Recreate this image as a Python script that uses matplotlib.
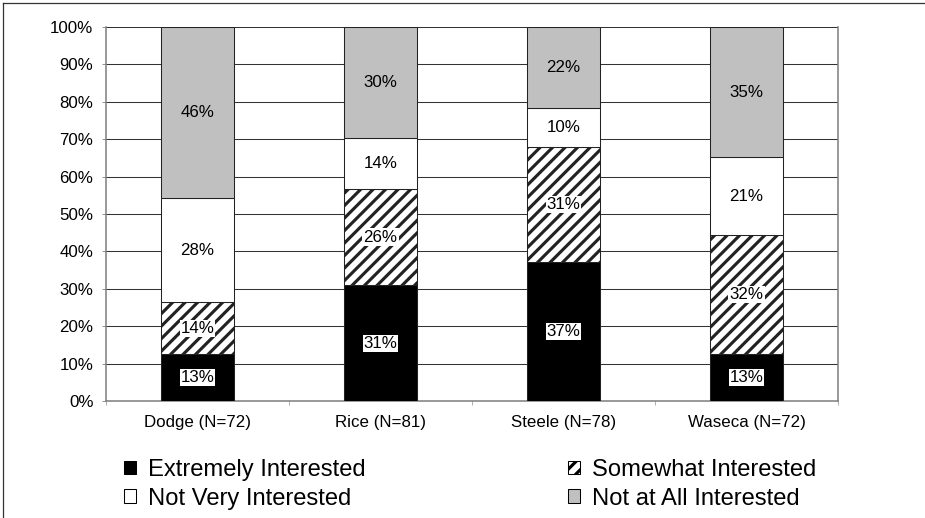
import numpy as np
import matplotlib
matplotlib.use('Agg')
import matplotlib.pyplot as plt
from matplotlib.patches import Patch
from matplotlib.lines import Line2D

# Data (percent of respondents per county)
counties = ['Dodge (N=72)', 'Rice (N=81)', 'Steele (N=78)', 'Waseca (N=72)']
extremely = [12.5, 30.9, 37.2, 12.5]
somewhat = [13.9, 25.9, 30.8, 31.9]
not_very = [27.8, 13.6, 10.3, 20.8]
not_at_all = [45.8, 29.6, 21.8, 34.7]

series_names = ['Extremely Interested', 'Somewhat Interested',
                'Not Very Interested', 'Not at All Interested']
series = [extremely, somewhat, not_very, not_at_all]
fills = ['black', 'white', 'white', '#c0c0c0']
hatches = [None, '//', None, None]
label_box = [True, True, False, False]

plt.rcParams['font.family'] = ['Liberation Sans', 'DejaVu Sans']
plt.rcParams['hatch.linewidth'] = 3.0
plt.rcParams['hatch.color'] = 'black'

DPI = 75
fig = plt.figure(figsize=(926 / DPI, 518 / DPI), dpi=DPI)
ax = fig.add_axes([106 / 926, 1 - 401 / 518, (838 - 106) / 926, (401 - 27) / 518])

x = np.arange(len(counties))
bottom = np.zeros(len(counties))
for vals, fc, h, box in zip(series, fills, hatches, label_box):
    vals = np.array(vals)
    ax.bar(x, vals, 0.4, bottom=bottom, color=fc, edgecolor='#222222',
           linewidth=1.0, hatch=h, zorder=3)
    for xi, v, b0 in zip(x, vals, bottom):
        kw = {}
        if box:
            kw['bbox'] = dict(facecolor='white', edgecolor='none', pad=1.0)
        # round half up like excel does
        ax.text(xi, b0 + v / 2, f'{int(np.floor(v + 0.5))}%', ha='center', va='center',
                fontsize=16.2, color='black', zorder=5, **kw)
    bottom = bottom + vals

ax.set_xlim(-0.5, len(counties) - 0.5)
ax.set_ylim(0, 100)
ax.set_yticks(np.arange(0, 101, 10))
ax.set_yticklabels([f'{v}%' for v in range(0, 101, 10)], fontsize=16.2)
ax.set_xticks(x)
ax.set_xticklabels(counties, fontsize=16.2)
ax.tick_params(axis='x', which='major', length=0, pad=13)
ax.set_xticks(np.arange(-0.5, len(counties), 1), minor=True)
ax.tick_params(axis='x', which='minor', length=4, color='#808080', direction='out')
ax.tick_params(axis='y', length=4, color='#808080', pad=8)

ax.grid(axis='y', color='#333333', linewidth=1.0, zorder=0)
ax.set_axisbelow(True)
for s in ['left', 'bottom', 'right']:
    ax.spines[s].set_color('#808080')
    ax.spines[s].set_linewidth(1.5)
ax.spines['top'].set_visible(False)

# legend below the plot, two columns
handles = [Patch(facecolor=fills[i], edgecolor='black', hatch=hatches[i], linewidth=1.0)
           for i in range(4)]
order = [0, 2, 1, 3]
fig.legend([handles[i] for i in order], [series_names[i] for i in order],
           loc='upper left', bbox_to_anchor=(124 / 926, 1 - 459 / 518),
           ncol=2, frameon=False, fontsize=22.8, handlelength=0.5,
           handleheight=0.5, handletextpad=0.5, columnspacing=8.55,
           labelspacing=0.28, borderpad=0, borderaxespad=0)

# outer chart border (only top and left edges are visible)
fig.add_artist(Line2D([3 / 926, 1.2], [1 - 3 / 518, 1 - 3 / 518],
                      transform=fig.transFigure, color='#333333', linewidth=1.2))
fig.add_artist(Line2D([3 / 926, 3 / 926], [-0.2, 1 - 3 / 518],
                      transform=fig.transFigure, color='#333333', linewidth=1.2))

fig.savefig('out.png', dpi=DPI)
